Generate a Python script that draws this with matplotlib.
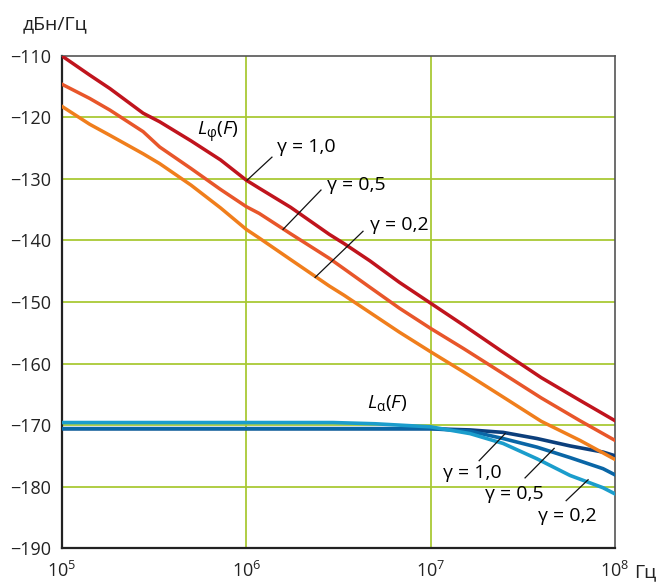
"""Фазовый и амплитудный шум: L_phi(F) и L_alpha(F) при разных gamma."""
import matplotlib
matplotlib.use("Agg")
import matplotlib.pyplot as plt
import numpy as np

plt.rcParams["font.family"] = ["Open Sans", "DejaVu Sans"]
plt.rcParams["mathtext.fontset"] = "custom"
plt.rcParams["mathtext.rm"] = "Open Sans"
plt.rcParams["mathtext.it"] = "Open Sans:italic"
plt.rcParams["axes.unicode_minus"] = True

# lg(F), Гц -> уровень, дБн/Гц
lgf_phi = [5.0, 5.15, 5.26, 5.44, 5.53, 5.7, 5.86, 6.0, 6.07, 6.24, 6.45, 6.53, 6.67,
           6.83, 7.0, 7.18, 7.38, 7.6, 7.81, 8.0]
phi_g10 = [-110.0, -113.1, -115.3, -119.3, -120.7, -123.8, -126.9, -130.2, -131.5, -134.6,
           -139.0, -140.5, -143.3, -146.8, -150.2, -153.8, -157.9, -162.3, -166.0, -169.3]
phi_g05 = [-114.6, -116.9, -118.8, -122.3, -124.8, -128.3, -131.7, -134.5, -135.6, -138.9,
           -142.9, -144.6, -147.6, -151.0, -154.3, -157.6, -161.4, -165.6, -169.3, -172.5]
phi_g02 = [-118.2, -121.1, -122.9, -125.9, -127.5, -131.0, -134.7, -138.2, -139.6, -143.1,
           -147.4, -148.9, -151.7, -154.9, -158.1, -161.4, -165.2, -169.4, -172.5, -175.6]

lgf_alpha = [5.0, 5.5, 6.0, 6.47, 6.7, 7.0, 7.214, 7.393, 7.577, 7.756, 7.935, 8.0]
alpha_g10 = [-170.6, -170.6, -170.6, -170.6, -170.6, -170.6, -170.8, -171.2, -172.2, -173.4, -174.4, -175.0]
alpha_g05 = [-170.6, -170.6, -170.6, -170.6, -170.6, -170.6, -171.0, -172.2, -173.6, -175.3, -177.1, -178.1]
alpha_g02 = [-169.6, -169.6, -169.6, -169.6, -169.8, -170.3, -171.4, -173.0, -175.5, -178.2, -180.2, -181.2]

y_ticks = [-110, -120, -130, -140, -150, -160, -170, -180, -190]
x_ticks = [1e5, 1e6, 1e7, 1e8]
x_labels = [r"$10^{5}$", r"$10^{6}$", r"$10^{7}$", r"$10^{8}$"]

grid_color = "#a9c935"
fig = plt.figure(figsize=(6.56, 5.83), dpi=100)
ax = fig.add_axes([0.0945, 0.060, 0.843, 0.844])

f_phi = 10.0 ** np.array(lgf_phi)
f_alpha = 10.0 ** np.array(lgf_alpha)

ax.plot(f_alpha, alpha_g10, color="#0c3f7c", linewidth=2.6, zorder=3)
ax.plot(f_alpha, alpha_g05, color="#0a66a6", linewidth=2.6, zorder=3)
ax.plot(f_alpha, alpha_g02, color="#1b9dcc", linewidth=2.6, zorder=3)
ax.plot(f_phi, phi_g02, color="#f07e1c", linewidth=2.5, zorder=4)
ax.plot(f_phi, phi_g05, color="#e8562a", linewidth=2.5, zorder=4)
ax.plot(f_phi, phi_g10, color="#c0141d", linewidth=2.5, zorder=4)

ax.set_xscale("log")
ax.set_xlim(1e5, 1e8)
ax.set_ylim(-190, -110)
ax.set_xticks(x_ticks)
ax.set_xticklabels(x_labels)
ax.minorticks_off()
ax.set_yticks(y_ticks)
ax.set_yticklabels([f"\u2212{abs(v)}" for v in y_ticks])
ax.tick_params(length=0, labelsize=13, colors="#222222")
ax.tick_params(axis="y", pad=8)
ax.tick_params(axis="x", pad=9)

for v in y_ticks[1:-1]:
    ax.axhline(v, color=grid_color, linewidth=1.3, zorder=1)
for v in x_ticks[1:-1]:
    ax.axvline(v, color=grid_color, linewidth=1.3, zorder=1)

for side in ["left", "bottom"]:
    ax.spines[side].set_color("#222222")
    ax.spines[side].set_linewidth(1.6)
for side in ["top", "right"]:
    ax.spines[side].set_color("#555555")
    ax.spines[side].set_linewidth(1.2)

# подписи
fig.text(23 / 656, 1 - 24 / 583, "дБн/Гц", fontsize=14, va="center", ha="left", color="#222222")
fig.text(634 / 656, 1 - 572 / 583, "Гц", fontsize=14, va="center", ha="left", color="#222222")

ax.text(10 ** 5.846, -122.4, r"$L_{\mathrm{φ}}(F)$", fontsize=14, ha="center", va="center")
ax.text(10 ** 6.324, -124.8, "γ = 1,0", fontsize=14, ha="center", va="center")
ax.text(10 ** 6.595, -131.0, "γ = 0,5", fontsize=14, ha="center", va="center")
ax.text(10 ** 6.829, -137.5, "γ = 0,2", fontsize=14, ha="center", va="center")
ax.text(10 ** 6.763, -166.5, r"$L_{\mathrm{α}}(F)$", fontsize=14, ha="center", va="center")
ax.text(10 ** 7.225, -177.8, "γ = 1,0", fontsize=14, ha="center", va="center")
ax.text(10 ** 7.453, -181.2, "γ = 0,5", fontsize=14, ha="center", va="center")
ax.text(10 ** 7.74, -184.8, "γ = 0,2", fontsize=14, ha="center", va="center")

leaders = [
    ((6.004, -130.2), (6.139, -126.45)),
    ((6.199, -138.2), (6.405, -131.8)),
    ((6.373, -146.0), (6.633, -138.5)),
    ((7.263, -175.8), (7.404, -171.4)),
    ((7.512, -178.6), (7.670, -173.8)),
    ((7.735, -182.3), (7.854, -178.9)),
]
for (x0, y0), (x1, y1) in leaders:
    ax.plot([10 ** x0, 10 ** x1], [y0, y1], color="#111111", linewidth=0.9, zorder=5)

fig.savefig("out.png", dpi=100)
